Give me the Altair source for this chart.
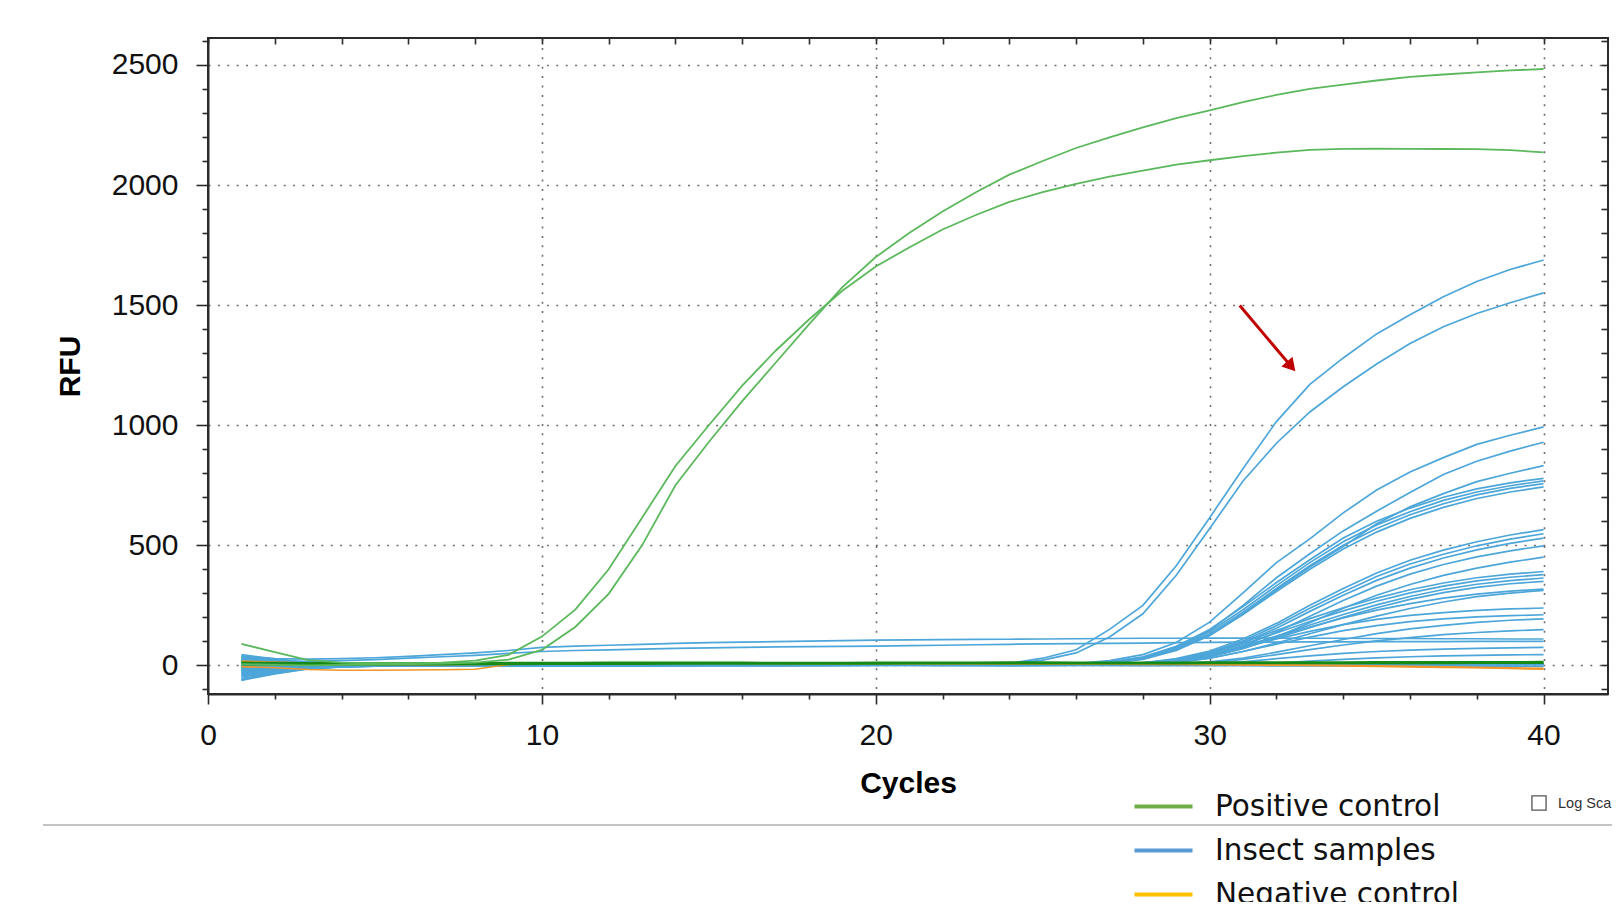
import altair as alt
import pandas as pd

# ---------------- data (RFU per cycle, cycles 1..40) ----------------
cycles = list(range(1, 41))

pos_A = [90, 55, 22, 12, 8, 8, 12, 20, 44, 120, 232, 400, 615, 830, 1000, 1165, 1310, 1440, 1560, 1661,
         1740, 1815, 1875, 1930, 1970, 2005, 2035, 2060, 2085, 2103, 2120, 2135, 2146, 2150, 2151, 2150, 2150, 2149, 2145, 2136]
pos_B = [5, 2, 0, 2, 3, 5, 8, 12, 24, 65, 160, 298, 500, 750, 930, 1100, 1260, 1420, 1575, 1700,
         1800, 1890, 1970, 2043, 2100, 2154, 2198, 2240, 2278, 2311, 2345, 2375, 2400, 2418, 2435, 2450, 2460, 2469, 2477, 2483]

dkg_1 = [12, 11, 10, 10, 9, 9, 10, 10, 11, 11, 11, 12, 12, 12, 12, 12, 11, 11, 11, 12,
         12, 12, 12, 13, 13, 12, 12, 12, 12, 13, 13, 13, 13, 13, 14, 14, 14, 14, 14, 15]
dkg_2 = [4, 4, 3, 3, 3, 4, 4, 5, 5, 6, 6, 6, 6, 7, 7, 7, 7, 7, 7, 7,
         8, 8, 8, 8, 8, 8, 8, 8, 8, 9, 9, 9, 9, 9, 9, 9, 9, 10, 10, 10]

neg_1 = [-5, -10, -17, -20, -20, -19, -18, -16, 4, 8, 8, 8, 9, 9, 9, 9, 9, 8, 8, 8,
         8, 8, 7, 7, 7, 7, 6, 6, 6, 5, 4, 3, 2, 0, -2, -4, -6, -8, -10, -12]
neg_2 = [18, 14, 10, 6, 4, 3, 3, 4, 6, 7, 8, 8, 8, 8, 8, 8, 7, 7, 7, 7,
         7, 6, 6, 6, 5, 5, 5, 4, 4, 3, 2, 1, 0, -2, -4, -6, -8, -10, -13, -16]

flat_1 = [35, 28, 26, 28, 32, 38, 45, 52, 62, 75, 80, 84, 88, 92, 95, 97, 99, 101, 103, 105,
          106, 107, 108, 109, 110, 111, 112, 113, 113, 114, 114, 114, 113, 113, 112, 112, 111, 111, 110, 110]
flat_2 = [22, 18, 17, 20, 24, 30, 36, 42, 50, 58, 62, 65, 68, 71, 73, 75, 77, 78, 79, 80,
          82, 84, 86, 88, 90, 91, 92, 93, 95, 96, 97, 97, 98, 98, 99, 99, 99, 100, 100, 100]

base_1 = [-62, -35, -15, -6, -3, -2, -1, 0, 0, 1, 1, 0, 0, 1, 1, 1, 0, 0, 1, 1,
          1, 1, 0, 0, 1, 1, 1, 2, 2, 2, 2, 2, 3, 3, 3, 3, 3, 4, 4, 4]
base_2 = [-48, -28, -12, -5, -3, -2, -2, -1, -1, 0, 0, 0, -1, -1, 0, 0, 0, -1, -1, 0,
          0, 0, 0, -1, -1, 0, 0, 0, 1, 1, 1, 1, 1, 2, 2, 2, 2, 2, 3, 3]
base_3 = [-30, -18, -8, -4, -2, -1, 0, 0, 1, 1, 2, 2, 2, 2, 3, 3, 3, 3, 3, 4,
          4, 4, 4, 4, 5, 5, 5, 5, 5, 6, 6, 6, 6, 6, 7, 7, 7, 7, 7, 8]
base_4 = [40, 24, 10, 4, 2, 1, 1, 0, 0, 0, -1, -1, 0, 0, 0, -1, -1, -1, 0, 0,
          0, -1, -1, -1, 0, 0, 0, -1, -1, -1, -1, -2, -2, -2, -2, -3, -3, -3, -3, -4]
base_5 = [25, 14, 6, 3, 2, 1, 1, 1, 1, 2, 2, 2, 2, 2, 2, 2, 2, 3, 3, 3,
          3, 3, 3, 3, 4, 4, 4, 4, 4, 4, 4, 5, 5, 5, 5, 5, 5, 6, 6, 6]
base_6 = [-15, -9, -4, -2, -1, -1, 0, 0, 0, 0, 0, 0, 0, 1, 1, 1, 1, 1, 1, 1,
          1, 1, 2, 2, 2, 2, 2, 2, 2, 3, 3, 3, 3, 3, 3, 3, 4, 4, 4, 4]

H1 = [-20, -12, -5, -2, -1, 0, 0, 1, 1, 2, 2, 2, 2, 3, 3, 3, 3, 3, 4, 4,
      4, 5, 5, 8, 30, 65, 150, 250, 415, 615, 820, 1015, 1170, 1280, 1380, 1460, 1535, 1598, 1648, 1688]
H2 = [-35, -20, -9, -4, -2, -1, -1, 0, 0, 0, 1, 1, 1, 1, 1, 2, 2, 2, 2, 2,
      3, 3, 3, 5, 22, 52, 118, 215, 375, 570, 768, 925, 1055, 1160, 1255, 1340, 1410, 1465, 1510, 1551]

U1 = [-55, -30, -12, -5, -3, -2, -1, -1, 0, 0, 0, 0, 1, 1, 1, 1, 1, 1, 2, 2,
      2, 2, 2, 3, 4, 8, 20, 45, 95, 180, 302, 428, 527, 635, 730, 805, 865, 920, 958, 993]
U2 = [30, 18, 8, 3, 1, 0, 0, 0, 0, 0, 0, -1, -1, 0, 0, 0, 0, 1, 1, 1,
      1, 1, 1, 2, 3, 6, 15, 35, 75, 145, 250, 365, 465, 560, 642, 720, 795, 850, 892, 929]
U3 = [-40, -22, -10, -4, -2, -1, 0, 0, 0, 0, 1, 1, 1, 1, 1, 1, 2, 2, 2, 2,
      2, 2, 3, 3, 3, 5, 12, 30, 65, 125, 215, 315, 410, 495, 590, 660, 715, 765, 800, 832]
U4 = [-10, -6, -3, -1, 0, 0, 0, 0, 1, 1, 1, 1, 1, 1, 2, 2, 2, 2, 2, 2,
      3, 3, 3, 3, 4, 6, 14, 35, 80, 150, 245, 345, 440, 530, 600, 655, 700, 735, 760, 779]
U5 = [15, 9, 4, 2, 1, 0, 0, 0, 0, 0, 0, 0, 0, 1, 1, 1, 1, 1, 1, 1,
      1, 2, 2, 2, 3, 5, 12, 30, 72, 140, 232, 332, 428, 515, 585, 640, 687, 722, 748, 768]
U6 = [-25, -15, -7, -3, -1, -1, 0, 0, 0, 0, 0, 1, 1, 1, 1, 1, 1, 1, 2, 2,
      2, 2, 2, 2, 3, 4, 10, 28, 68, 132, 222, 320, 415, 500, 570, 627, 673, 710, 737, 757]
U7 = [5, 3, 1, 0, 0, 0, 0, 0, 0, 1, 1, 1, 1, 1, 1, 1, 1, 2, 2, 2,
      2, 2, 2, 2, 3, 4, 9, 25, 62, 125, 212, 308, 400, 485, 555, 612, 658, 695, 722, 743]

M1 = [-45, -26, -11, -5, -2, -1, -1, 0, 0, 0, 0, 0, 0, 1, 1, 1, 1, 1, 1, 1,
      2, 2, 2, 2, 2, 3, 4, 10, 28, 60, 110, 175, 250, 320, 385, 438, 480, 515, 543, 565]
M2 = [10, 6, 2, 1, 0, 0, 0, 0, 0, 0, 1, 1, 1, 1, 1, 1, 1, 1, 2, 2,
      2, 2, 2, 2, 2, 3, 4, 9, 25, 55, 102, 165, 238, 306, 370, 422, 463, 498, 526, 548]
M3 = [-20, -12, -5, -2, -1, 0, 0, 0, 0, 0, 0, 0, 1, 1, 1, 1, 1, 1, 1, 1,
      1, 2, 2, 2, 2, 3, 4, 8, 22, 50, 95, 155, 225, 292, 354, 405, 447, 481, 508, 530]
M4 = [35, 20, 9, 4, 2, 1, 0, 0, 0, 0, 0, 0, 0, 0, 0, 1, 1, 1, 1, 1,
      1, 1, 1, 2, 2, 2, 3, 7, 18, 42, 82, 138, 205, 270, 330, 380, 420, 452, 477, 498]
M5 = [-5, -3, -1, 0, 0, 0, 0, 0, 0, 0, 1, 1, 1, 1, 1, 1, 1, 1, 1, 1,
      2, 2, 2, 2, 2, 2, 3, 6, 15, 35, 70, 118, 178, 238, 292, 337, 375, 405, 430, 451]

L1 = [-58, -33, -14, -6, -3, -2, -1, -1, 0, 0, 0, 0, 0, 1, 1, 1, 1, 1, 1, 1,
      1, 2, 2, 2, 2, 3, 5, 12, 25, 55, 95, 145, 195, 240, 280, 315, 343, 365, 380, 391]
L2 = [20, 12, 5, 2, 1, 0, 0, 0, 0, 0, 0, 0, 1, 1, 1, 1, 1, 1, 1, 1,
      1, 1, 2, 2, 2, 2, 4, 10, 22, 50, 88, 135, 183, 227, 267, 302, 330, 352, 367, 378]
L3 = [-12, -7, -3, -1, 0, 0, 0, 0, 0, 0, 0, 0, 0, 0, 1, 1, 1, 1, 1, 1,
      1, 1, 1, 1, 2, 2, 3, 8, 18, 42, 78, 122, 168, 212, 252, 287, 316, 338, 353, 364]
L4 = [45, 27, 12, 5, 2, 1, 1, 0, 0, 0, 0, 0, 0, 0, 0, 0, 1, 1, 1, 1,
      1, 1, 1, 1, 1, 2, 3, 7, 15, 38, 72, 113, 157, 200, 240, 275, 303, 325, 340, 350]
L5 = [-30, -17, -7, -3, -1, -1, 0, 0, 0, 0, 1, 1, 1, 1, 1, 1, 1, 1, 2, 2,
      2, 2, 2, 2, 3, 4, 6, 11, 20, 45, 80, 120, 160, 198, 230, 257, 280, 297, 309, 318]
L6 = [0, 0, 0, 0, 0, 0, 0, 0, 0, 0, 0, 0, 0, 1, 1, 1, 1, 1, 1, 1,
      1, 1, 1, 1, 1, 2, 2, 5, 12, 30, 58, 93, 132, 170, 205, 237, 264, 286, 301, 312]

S1 = [-38, -21, -9, -4, -2, -1, 0, 0, 0, 0, 0, 1, 1, 1, 1, 1, 1, 1, 1, 1,
      2, 2, 2, 2, 2, 3, 4, 8, 18, 40, 75, 110, 142, 170, 192, 208, 220, 229, 235, 239]
S2 = [8, 5, 2, 1, 0, 0, 0, 0, 0, 0, 0, 0, 0, 1, 1, 1, 1, 1, 1, 1,
      1, 1, 1, 2, 2, 2, 3, 6, 14, 30, 58, 88, 118, 145, 166, 182, 194, 202, 207, 211]
S3 = [-22, -13, -6, -2, -1, 0, 0, 0, 0, 0, 0, 0, 0, 0, 1, 1, 1, 1, 1, 1,
      1, 1, 1, 1, 1, 2, 2, 4, 8, 15, 30, 55, 82, 108, 132, 152, 167, 179, 188, 194]
S4 = [28, 16, 7, 3, 1, 1, 0, 0, 0, 0, 0, 0, 0, 0, 0, 1, 1, 1, 1, 1,
      1, 1, 1, 1, 1, 1, 2, 3, 6, 12, 25, 45, 66, 85, 102, 116, 128, 137, 144, 149]
S5 = [-8, -5, -2, -1, 0, 0, 0, 0, 0, 0, 0, 0, 0, 0, 0, 0, 0, 1, 1, 1,
      1, 1, 1, 1, 1, 1, 1, 2, 4, 8, 15, 28, 40, 50, 58, 64, 68, 71, 73, 75]
S6 = [12, 7, 3, 1, 0, 0, 0, 0, 0, 0, 0, 0, 0, 0, 0, 0, 0, 0, 0, 1,
      1, 1, 1, 1, 1, 1, 1, 1, 2, 3, 6, 10, 18, 25, 31, 36, 40, 42, 44, 45]

positive_series = {"pos_A": pos_A, "pos_B": pos_B}
darkgreen_series = {"dkg_1": dkg_1, "dkg_2": dkg_2}
negative_series = {"neg_1": neg_1, "neg_2": neg_2}
insect_series = {
    "base_1": base_1, "base_2": base_2, "base_3": base_3, "base_4": base_4, "base_5": base_5, "base_6": base_6,
    "flat_1": flat_1, "flat_2": flat_2,
    "S6": S6, "S5": S5, "S4": S4, "S3": S3, "S2": S2, "S1": S1,
    "L6": L6, "L5": L5, "L4": L4, "L3": L3, "L2": L2, "L1": L1,
    "M5": M5, "M4": M4, "M3": M3, "M2": M2, "M1": M1,
    "U7": U7, "U6": U6, "U5": U5, "U4": U4, "U3": U3, "U2": U2, "U1": U1,
    "H2": H2, "H1": H1,
}

legend_labels = ["Positive control", "Insect samples", "Negative control"]
legend_colors = ["#70ad47", "#5b9bd5", "#ffc000"]

x_ticks = list(range(0, 43, 2))
y_ticks = list(range(-100, 2601, 100))

arrow_cycle = [30.9, 32.44]
arrow_rfu = [1498, 1245]

# ---------------- tidy table ----------------
rows = []
for kind, legend_name, group in [
    ("insect", "Insect samples", insect_series),
    ("negative", "Negative control", negative_series),
    ("darkgreen", "Other", darkgreen_series),
    ("positive", "Positive control", positive_series),
]:
    for name, vals in group.items():
        assert len(vals) == len(cycles), name
        for c, v in zip(cycles, vals):
            rows.append({"cycle": c, "rfu": v, "series": name, "kind": kind, "legend": legend_name})
df = pd.DataFrame(rows)
arrow_df = pd.DataFrame({"c0": [arrow_cycle[0]], "r0": [arrow_rfu[0]],
                         "c1": [arrow_cycle[1]], "r1": [arrow_rfu[1]]})

W, H = 1400, 656
xscale = alt.Scale(domain=[0, 41.93], nice=False, zero=False)
yscale = alt.Scale(domain=[-119, 2612], nice=False, zero=False)

FONT = "Liberation Sans"

x_axis = alt.Axis(
    orient="bottom", values=x_ticks, format="d", labelFlush=False,
    labelExpr="datum.value % 10 === 0 ? datum.label : ''",
    tickSize={"condition": {"test": "datum.value % 10 === 0", "value": 10}, "value": 5},
    gridOpacity={"condition": {"test": "datum.value % 10 === 0 && datum.value > 0", "value": 1}, "value": 0},
    grid=True, gridColor="#6e6e6e", gridDash=[2, 7.4], gridWidth=1.6,
    title="Cycles", labelPadding=16, titlePadding=18,
)
y_axis = alt.Axis(
    orient="left", values=y_ticks, format="d", labelFlush=False,
    labelExpr="datum.value % 500 === 0 ? datum.label : ''",
    tickSize={"condition": {"test": "datum.value % 500 === 0", "value": 12}, "value": 6},
    gridOpacity={"condition": {"test": "datum.value % 500 === 0", "value": 1}, "value": 0},
    grid=True, gridColor="#6e6e6e", gridDash=[2, 7.4], gridWidth=1.6,
    title="RFU", labelPadding=18, titlePadding=26,
)
top_axis = alt.Axis(orient="top", values=x_ticks, labels=False, domain=False, grid=False,
                    tickSize=6, offset=-6, title=None)
right_axis = alt.Axis(orient="right", values=y_ticks, labels=False, domain=False, grid=False,
                      tickSize=7, offset=-7, title=None)


def curves(kind, color, width, axes=False):
    return alt.Chart(df).transform_filter(alt.datum.kind == kind).mark_line(
        strokeWidth=width, color=color
    ).encode(
        x=alt.X("cycle:Q", scale=xscale, axis=x_axis if axes else None),
        y=alt.Y("rfu:Q", scale=yscale, axis=y_axis if axes else None),
        detail="series:N",
        order="cycle:Q",
    )


blue = curves("insect", "#4da6d9", 1.7, axes=True)
orange = curves("negative", "#f0962a", 1.6)
dgreen = curves("darkgreen", "#168a16", 1.9)
green = curves("positive", "#5cb85c", 1.8)

legend_layer = alt.Chart(df).transform_filter(
    alt.FieldOneOfPredicate(field="legend", oneOf=legend_labels)
).mark_line(opacity=0).encode(
    x=alt.X("cycle:Q", scale=xscale, axis=top_axis),
    y=alt.Y("rfu:Q", scale=yscale, axis=right_axis),
    detail="series:N",
    color=alt.Color("legend:N", scale=alt.Scale(domain=legend_labels, range=legend_colors),
                    legend=alt.Legend(orient="none", legendX=926, legendY=739, title=None,
                                      symbolType="M-1.055,0H1.055", symbolStrokeWidth=4, symbolSize=3025,
                                      labelFont="DejaVu Sans", labelFontSize=29.5, labelColor="#111",
                                      labelOffset=22, labelLimit=600, rowPadding=0, padding=0,
                                      symbolOpacity=1)),
)

arrow_line = alt.Chart(arrow_df).mark_rule(color="#c00000", strokeWidth=3).encode(
    x=alt.X("c0:Q", scale=xscale, axis=None), y=alt.Y("r0:Q", scale=yscale, axis=None),
    x2="c1:Q", y2="r1:Q")
arrow_head = alt.Chart(arrow_df).mark_point(shape="triangle-up", filled=True, color="#c00000",
                                            opacity=1, size=220, angle=139).encode(
    x=alt.X("c1:Q", scale=xscale, axis=None), y=alt.Y("r1:Q", scale=yscale, axis=None))

sep_line = alt.Chart(arrow_df).mark_rule(color="#c4c4c4", strokeWidth=2).encode(
    x=alt.value(-165), x2=alt.value(1404), y=alt.value(787))
checkbox = alt.Chart(arrow_df).mark_point(shape="square", filled=False, color="#555555",
                                          strokeWidth=1.3, size=200, opacity=1).encode(
    x=alt.value(1331), y=alt.value(765))
logscale = alt.Chart(arrow_df).mark_text(text="Log Sca", font=FONT, fontSize=14.5, color="#333333",
                                         align="left", baseline="middle").encode(
    x=alt.value(1350), y=alt.value(766))

chart = alt.layer(
    blue, orange, dgreen, green, legend_layer, arrow_line, arrow_head, sep_line, checkbox, logscale
).resolve_axis(x="independent", y="independent").properties(
    width=W, height=H,
    autosize=alt.AutoSizeParams(type="none"),
    padding={"left": 200, "top": 30, "right": 4, "bottom": 208},
).configure_view(stroke="#2b2b2b", strokeWidth=2).configure_axis(
    labelFont=FONT, labelFontSize=30, labelColor="#111111",
    titleFont=FONT, titleFontSize=30, titleFontWeight="bold", titleColor="#000000",
    domainColor="#2b2b2b", domainWidth=2, tickColor="#2b2b2b", tickWidth=1.6,
)

chart.save("out.html", embed_options={"renderer": "svg", "actions": False})
